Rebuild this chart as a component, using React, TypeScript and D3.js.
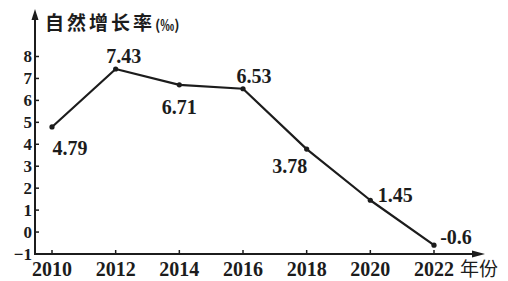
import React from "react";
import * as d3 from "d3";

const years = [2010, 2012, 2014, 2016, 2018, 2020, 2022];
const rates = [4.79, 7.43, 6.71, 6.53, 3.78, 1.45, -0.6];
const rateLabels = ["4.79", "7.43", "6.71", "6.53", "3.78", "1.45", "-0.6"];
const yTicks = [-1, 0, 1, 2, 3, 4, 5, 6, 7, 8];
const yTitle = "自然增长率";
const yUnit = "(‰)";
const xTitle = "年份";

// label placement offsets (dx, dy) relative to each point
const labelOffsets: [number, number][] = [
  [18, 21],
  [8, -13],
  [0, 22],
  [11, -13],
  [-17, 17],
  [25, -5],
  [22, -8],
];

const W = 508;
const H = 281;
const axisX = 35;
const axisY = 254;

export default function App() {
  const x = d3.scaleLinear().domain([2010, 2022]).range([52, 434]);
  const y = d3.scaleLinear().domain([-1, 8]).range([axisY, 56.5]);
  const line = d3
    .line<number>()
    .x((_, i) => x(years[i]))
    .y((d) => y(d));
  const ink = "#1c1c1c";
  const numFont = "'Liberation Serif', 'DejaVu Serif', serif";
  const cjkFont = "'Noto Sans CJK SC', sans-serif";

  return (
    <svg
      width={W}
      height={H}
      style={{ position: "absolute", left: 0, top: 0, background: "#fff" }}
    >
      {/* y axis */}
      <line x1={axisX} y1={axisY + 1} x2={axisX} y2={18} stroke={ink} strokeWidth={2} />
      <path d={`M${axisX},9 L${axisX - 3.5},20 L${axisX + 3.5},20 Z`} fill={ink} />
      {/* x axis */}
      <line x1={axisX - 1} y1={axisY} x2={474} y2={axisY} stroke={ink} strokeWidth={2} />
      <path d={`M485,${axisY} L472,${axisY - 3.5} L472,${axisY + 3.5} Z`} fill={ink} />

      {/* y ticks */}
      {yTicks.map((t) => (
        <g key={t}>
          {t !== -1 && (
            <line x1={axisX} x2={axisX + 4} y1={y(t)} y2={y(t)} stroke={ink} strokeWidth={1.5} />
          )}
          <text
            x={axisX - 3}
            y={y(t)}
            dy="0.35em"
            textAnchor="end"
            fontFamily={numFont}
            fontWeight="bold"
            fontSize={17}
            fill={ink}
          >
            {t < 0 ? "−" + Math.abs(t) : t}
          </text>
        </g>
      ))}

      {/* x ticks */}
      {years.map((yr) => (
        <g key={yr}>
          <line x1={x(yr)} x2={x(yr)} y1={axisY} y2={axisY - 4} stroke={ink} strokeWidth={1.5} />
          <text
            x={x(yr)}
            y={axisY + 22}
            textAnchor="middle"
            fontFamily={numFont}
            fontWeight="bold"
            fontSize={20}
            fill={ink}
          >
            {yr}
          </text>
        </g>
      ))}

      {/* titles */}
      <text x={45} y={30} fontFamily={cjkFont} fontSize={19} fontWeight="bold" fill={ink} letterSpacing={3}>
        {yTitle}
        <tspan fontSize={14} letterSpacing={0}>{yUnit}</tspan>
      </text>
      <text x={460} y={276} fontFamily={cjkFont} fontSize={19} fill={ink}>
        {xTitle}
      </text>

      {/* line */}
      <path d={line(rates) || ""} fill="none" stroke={ink} strokeWidth={2.2} strokeLinejoin="round" />
      {rates.map((v, i) => (
        <circle key={i} cx={x(years[i])} cy={y(v)} r={2.6} fill={ink} />
      ))}

      {/* value labels */}
      {rates.map((v, i) => (
        <text
          key={"l" + i}
          x={x(years[i]) + labelOffsets[i][0]}
          y={y(v) + labelOffsets[i][1]}
          dy="0.35em"
          textAnchor="middle"
          fontFamily={numFont}
          fontWeight="bold"
          fontSize={20}
          fill={ink}
        >
          {rateLabels[i]}
        </text>
      ))}
    </svg>
  );
}
